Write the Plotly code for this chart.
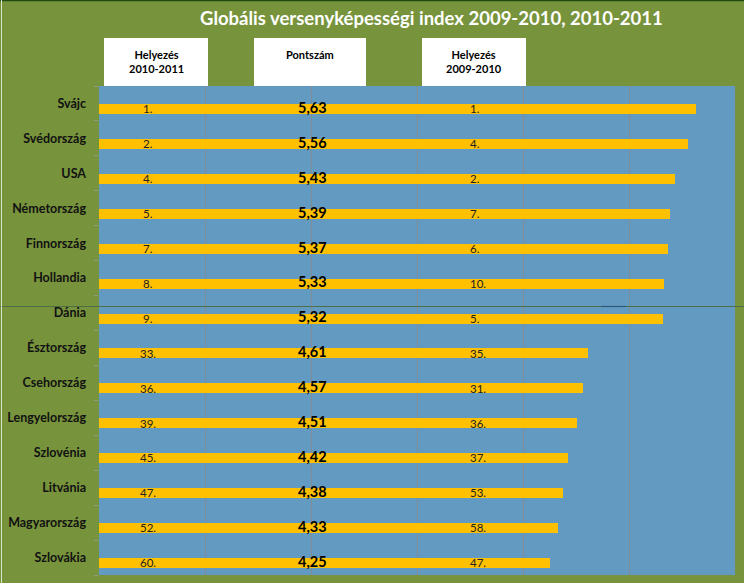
import plotly.graph_objects as go

countries = ["Svájc", "Svédország", "USA", "Németország", "Finnország", "Hollandia", "Dánia",
             "Észtország", "Csehország", "Lengyelország", "Szlovénia", "Litvánia", "Magyarország", "Szlovákia"]
scores = [5.63, 5.56, 5.43, 5.39, 5.37, 5.33, 5.32, 4.61, 4.57, 4.51, 4.42, 4.38, 4.33, 4.25]
rank_2010_2011 = [1, 2, 4, 5, 7, 8, 9, 33, 36, 39, 45, 47, 52, 60]
rank_2009_2010 = [1, 4, 2, 7, 6, 10, 5, 35, 31, 36, 37, 53, 58, 47]

title = "Globális versenyképességi index 2009-2010, 2010-2011"
headers = [("Helyezés<br>2010-2011", 104, 208), ("Pontszám", 254, 366), ("Helyezés<br>2009-2010", 422, 526)]

W, H = 744, 583
L, R, T, B = 99, 9, 86, 8
PW, PH = W - L - R, H - T - B

def xp(px):
    return (px - L) / PW

def yp(py):
    return (H - B - py) / PH

OLIVE = "#77933C"
BLUE = "#639AC2"
GOLD = "#FFC000"
FONT = "Lato"

n = len(countries)
ypos = list(range(n))

fig = go.Figure()
fig.add_trace(go.Bar(
    x=scores, y=ypos, orientation="h",
    marker=dict(color=GOLD, line=dict(width=0)),
    width=0.286, offset=0.014, hoverinfo="skip",
))

annotations = []
for i in range(n):
    annotations.append(dict(x=0.46, y=i + 0.15, xref="x", yref="y", text=f"{rank_2010_2011[i]}.",
                            showarrow=False, xanchor="center", yanchor="middle",
                            font=dict(family=FONT, size=11.5, color="#222222")))
    annotations.append(dict(x=2.01, y=i + 0.11, xref="x", yref="y", text=f"{scores[i]:.2f}".replace(".", ","),
                            showarrow=False, xanchor="center", yanchor="middle",
                            font=dict(family=FONT, size=14.5, color="#000000", weight="bold")))
    annotations.append(dict(x=3.48, y=i + 0.15, xref="x", yref="y", text=f"{rank_2009_2010[i]}.",
                            showarrow=False, xanchor="left", yanchor="middle",
                            font=dict(family=FONT, size=11.5, color="#222222")))

shapes = []
for text, x0, x1 in headers:
    shapes.append(dict(type="rect", xref="paper", yref="paper", x0=xp(x0), x1=xp(x1), y0=yp(86), y1=yp(38),
                       fillcolor="white", line=dict(width=0), layer="above"))
    annotations.append(dict(x=xp((x0 + x1) / 2), y=yp(46), xref="paper", yref="paper", text=text,
                            showarrow=False, xanchor="center", yanchor="top", align="center",
                            font=dict(family=FONT, size=11, color="#000000", weight="bold")))

annotations.append(dict(x=xp(431), y=yp(18), xref="paper", yref="paper", text=title, showarrow=False,
                        xanchor="center", yanchor="middle",
                        font=dict(family=FONT, size=18.5, color="white", weight="bold")))

# divider line and frame
shapes.append(dict(type="line", xref="paper", yref="paper", x0=xp(0), x1=xp(W), y0=yp(306.5), y1=yp(306.5),
                   line=dict(color="#4E6E48", width=1.2), layer="above"))
shapes.append(dict(type="line", xref="paper", yref="paper", x0=xp(601), x1=xp(626), y0=yp(306.5), y1=yp(306.5),
                   line=dict(color="#2E5A78", width=1.2), layer="above"))
shapes.append(dict(type="line", xref="paper", yref="paper", x0=xp(0), x1=xp(W), y0=yp(0.5), y1=yp(0.5),
                   line=dict(color="#1F4A12", width=1.5), layer="above"))
shapes.append(dict(type="line", xref="paper", yref="paper", x0=xp(1.5), x1=xp(1.5), y0=yp(0), y1=yp(H),
                   line=dict(color="#D6E3C8", width=1), layer="above"))

fig.update_layout(
    width=W, height=H,
    margin=dict(l=L, r=R, t=T, b=B, pad=0, autoexpand=False),
    paper_bgcolor=OLIVE, plot_bgcolor=BLUE,
    showlegend=False,
    bargap=0,
    annotations=annotations,
    shapes=shapes,
    xaxis=dict(range=[0, 6], tickvals=[1, 2, 3, 4, 5], showticklabels=False, showgrid=True, automargin=False,
               gridcolor="#7F8D99", gridwidth=1, zeroline=False, showline=False, ticks="", fixedrange=True),
    yaxis=dict(range=[n - 0.5, -0.5], tickvals=ypos, ticktext=countries, showgrid=False, zeroline=False,
               showline=False, ticks="", ticklabelstandoff=12, automargin=False,
               tickfont=dict(family=FONT, size=12.5, color="#111111", weight="bold"),
               minor=dict(tickvals=[i + 0.5 for i in range(-1, n)], ticks="outside", ticklen=4,
                          tickcolor="#8E9A86", tickwidth=1),
               fixedrange=True),
)

fig.write_html("out.html")
